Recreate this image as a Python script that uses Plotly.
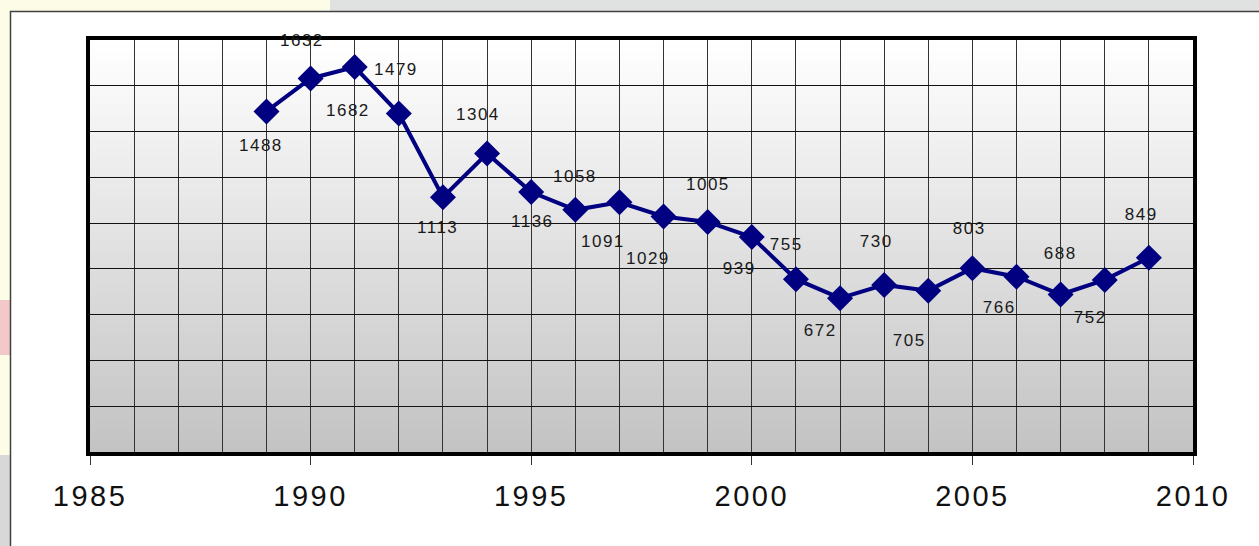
import plotly.graph_objects as go

# ---- data ----
years = [1989, 1990, 1991, 1992, 1993, 1994, 1995, 1996, 1997, 1998, 1999,
         2000, 2001, 2002, 2003, 2004, 2005, 2006, 2007, 2008, 2009]
values = [1488, 1632, 1682, 1479, 1113, 1304, 1136, 1058, 1091, 1029, 1005,
          939, 755, 672, 730, 705, 803, 766, 688, 752, 849]
labels = [str(v) for v in values]
x_ticks = [1985, 1990, 1995, 2000, 2005, 2010]

# ---- label offsets (pixels, styling only) ----
label_dx = [-5, -9, -7, -3, -5, -9, 1, 0, -16, -16, 0, -13, -10, -20, -8, -19, -3, -18, -1, -15, -8]
label_dy = [34, -38, 43, -44, 30, -39, 30, -33, 39, 42, -37, 31, -35, 32, -43, 50, -40, 31, -41, 38, -43]

W, H = 1259, 546
ML, MR, MT, MB = 90, 66, 40, 94
PW, PH = W - ML - MR, H - MT - MB

def px(x):
    return (x - ML) / PW

def py(y):
    return (H - MB - y) / PH

NAVY = "#000080"

fig = go.Figure()
fig.add_trace(go.Scatter(
    x=years, y=values, mode="lines+markers",
    line=dict(color=NAVY, width=4),
    marker=dict(symbol="diamond", size=20, color=NAVY),
    hoverinfo="x+y", showlegend=False,
))

shapes = []
# background strips outside the card
shapes.append(dict(type="rect", xref="paper", yref="paper", x0=px(330), x1=px(W + 5),
                   y0=py(11), y1=py(-5), fillcolor="#dfe2e1", line=dict(width=0), layer="below"))
shapes.append(dict(type="rect", xref="paper", yref="paper", x0=px(-5), x1=px(10),
                   y0=py(300), y1=py(355), fillcolor="#f2c8c8", line=dict(width=0), layer="below"))
shapes.append(dict(type="rect", xref="paper", yref="paper", x0=px(-5), x1=px(10),
                   y0=py(H + 5), y1=py(455), fillcolor="#d8d8d8", line=dict(width=0), layer="below"))
# white card
shapes.append(dict(type="rect", xref="paper", yref="paper", x0=px(10.5), x1=px(W + 20),
                   y0=py(H + 20), y1=py(11.5), fillcolor="white",
                   line=dict(color="#404040", width=1.5), layer="below"))
# vertical gradient of plot area (overlapping strips to avoid seams)
N = 100
for i in range(N):
    t = i / (N - 1)
    c = int(round(255 - t * (255 - 195)))
    shapes.append(dict(type="rect", xref="x domain", yref="y domain",
                       x0=0, x1=1, y0=max(0, 1 - (i + 1) / N - 0.004), y1=1 - i / N,
                       fillcolor=f"rgb({c},{c},{c})", line=dict(width=0), layer="below"))

annotations = []
for xv, yv, lab, dx, dy in zip(years, values, labels, label_dx, label_dy):
    annotations.append(dict(x=xv, y=yv, xref="x", yref="y", text=lab, showarrow=False,
                            xshift=dx, yshift=-dy,
                            font=dict(family="Liberation Sans, Arial", size=17, color="#1a1a1a")))

fig.update_layout(
    width=W, height=H,
    margin=dict(l=ML, r=MR, t=MT, b=MB),
    paper_bgcolor="#fdfce6",
    plot_bgcolor="rgba(0,0,0,0)",
    shapes=shapes,
    annotations=annotations,
    xaxis=dict(
        range=[1985, 2010], tickvals=x_ticks, ticktext=[str(v) for v in x_ticks],
        showgrid=True, gridcolor="#333333", gridwidth=1,
        minor=dict(dtick=1, tick0=1985, showgrid=True, gridcolor="#333333", gridwidth=1, ticks=""),
        ticks="outside", ticklen=9, tickwidth=1, tickcolor="#333333",
        showline=True, linecolor="black", linewidth=4, mirror=True,
        tickfont=dict(family="Liberation Sans, Arial", size=29, color="#111111"),
        ticklabelstandoff=6,
        zeroline=False, fixedrange=True,
    ),
    yaxis=dict(
        range=[0, 1800], dtick=200, tick0=0,
        showgrid=True, gridcolor="#111111", gridwidth=1,
        showticklabels=False, ticks="",
        showline=True, linecolor="black", linewidth=4, mirror=True,
        zeroline=False, fixedrange=True,
    ),
)

post = """
document.documentElement.style.margin = '0';
document.body.style.margin = '0';
document.body.style.padding = '0';
document.body.style.overflow = 'hidden';
var s = document.createElement('style');
s.innerHTML = 'html, body {margin:0 !important; padding:0 !important;} .xtick text {letter-spacing: 2.5px;} .annotation-text {letter-spacing: 1.5px;}';
document.head.appendChild(s);
"""
fig.write_html("out.html", post_script=post, config={"displayModeBar": False})
